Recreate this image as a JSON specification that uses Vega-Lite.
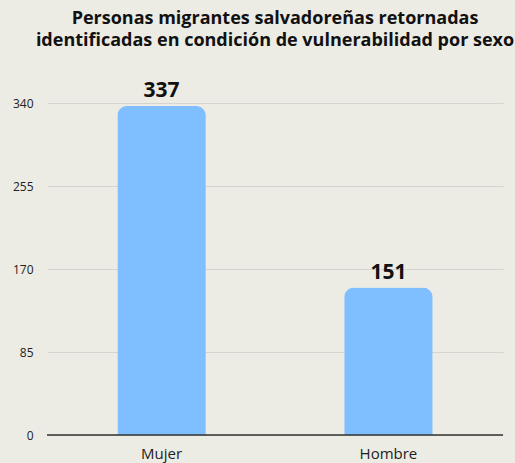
{
  "$schema": "https://vega.github.io/schema/vega-lite/v6.json",
  "width": 456,
  "height": 332,
  "autosize": {"type": "none"},
  "padding": {"left": 47, "top": 103, "right": 12, "bottom": 28},
  "background": "#ecece5",
  "config": {"view": {"stroke": null}, "font": "Open Sans"},
  "title": {
    "text": ["Personas migrantes salvadoreñas retornadas", "identificadas en condición de vulnerabilidad por sexo"],
    "frame": "group",
    "anchor": "middle",
    "fontSize": 18,
    "fontWeight": "bold",
    "color": "#111111",
    "lineHeight": 22,
    "offset": 30
  },
  "data": {"values": [
    {"sexo": "Mujer", "valor": 337},
    {"sexo": "Hombre", "valor": 151}
  ]},
  "encoding": {
    "x": {
      "field": "sexo", "type": "nominal", "sort": null,
      "scale": {"paddingInner": 0.61, "paddingOuter": 0.31},
      "axis": {"title": null, "labelAngle": 0, "ticks": false, "domain": false, "labelFontSize": 15, "labelColor": "#222222", "labelPadding": 11}
    },
    "y": {
      "field": "valor", "type": "quantitative",
      "scale": {"domain": [0, 340]},
      "axis": {"title": null, "values": [0, 85, 170, 255, 340], "ticks": false, "domain": false, "labelFontSize": 12, "labelColor": "#222222", "labelPadding": 14, "gridColor": "#d5d5d0", "gridWidth": 1}
    }
  },
  "layer": [
    {"mark": {"type": "bar", "color": "#80bfff", "cornerRadiusTopLeft": 10, "cornerRadiusTopRight": 10}},
    {"mark": {"type": "rule", "color": "#333333", "strokeWidth": 1.2}, "encoding": {"y": {"datum": 0}, "x": null}},
    {"mark": {"type": "text", "baseline": "bottom", "dy": -5, "fontSize": 21, "fontWeight": "bold", "color": "#111111"}, "encoding": {"text": {"field": "valor", "type": "quantitative"}}}
  ]
}
